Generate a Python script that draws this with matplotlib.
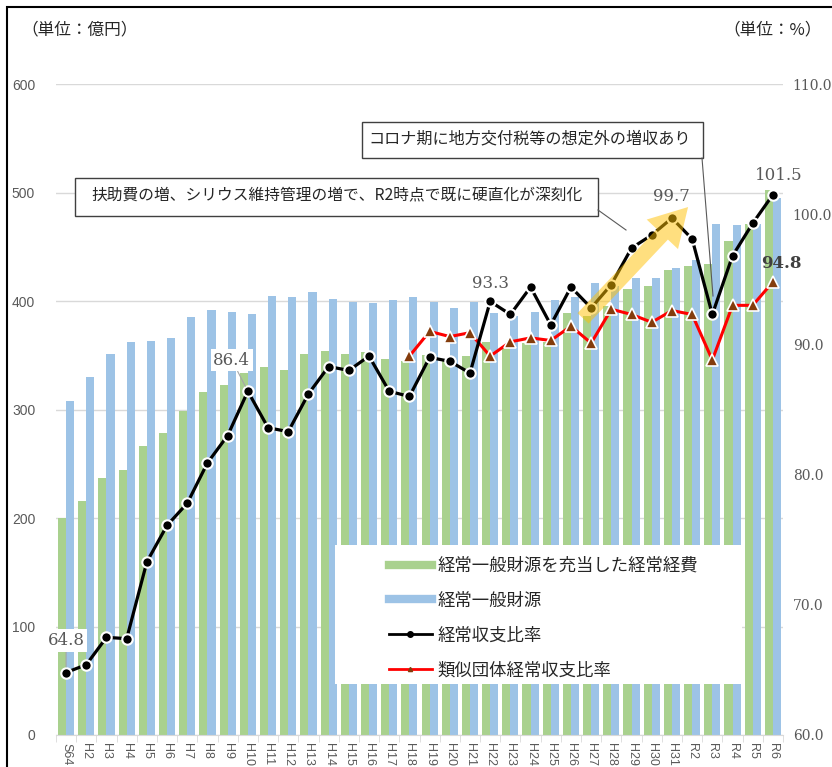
import matplotlib
matplotlib.use('Agg')
import matplotlib.pyplot as plt
from matplotlib.lines import Line2D
from matplotlib.patches import Rectangle, FancyArrowPatch
import numpy as np

plt.rcParams['font.family'] = ['Noto Sans CJK JP', 'DejaVu Sans']

# ---------------- data ----------------
categories = ['S64', 'H2', 'H3', 'H4', 'H5', 'H6', 'H7', 'H8', 'H9', 'H10',
              'H11', 'H12', 'H13', 'H14', 'H15', 'H16', 'H17', 'H18', 'H19', 'H20',
              'H21', 'H22', 'H23', 'H24', 'H25', 'H26', 'H27', 'H28', 'H29', 'H30',
              'H31', 'R2', 'R3', 'R4', 'R5', 'R6']

# 経常一般財源を充当した経常経費 (億円)
expense = [200, 216, 237, 244, 266, 278, 299, 316, 323, 334,
           339, 336, 351, 354, 351, 353, 347, 345, 350, 347,
           349, 362, 358, 361, 362, 389, 386, 395, 411, 414,
           429, 432, 434, 455, 471, 502]

# 経常一般財源 (億円)
revenue = [308, 330, 351, 362, 363, 366, 385, 392, 390, 388,
           405, 404, 408, 402, 399, 398, 401, 404, 399, 394,
           399, 389, 386, 390, 401, 404, 417, 414, 421, 421,
           430, 438, 471, 470, 471, 495]

# 経常収支比率 (%)
ratio = [64.8, 65.4, 67.5, 67.4, 73.3, 76.1, 77.8, 80.9, 83.0, 86.4,
         83.6, 83.3, 86.2, 88.3, 88.0, 89.1, 86.4, 86.0, 89.0, 88.7,
         87.8, 93.3, 92.3, 94.4, 91.5, 94.4, 92.8, 94.6, 97.4, 98.4,
         99.7, 98.1, 92.3, 96.8, 99.3, 101.5]

# 類似団体経常収支比率 (%)
similar = [np.nan, np.nan, np.nan, np.nan, np.nan, np.nan, np.nan, np.nan, np.nan, np.nan,
           np.nan, np.nan, np.nan, np.nan, np.nan, np.nan, np.nan, 89.1, 91.0, 90.6,
           90.9, 89.1, 90.2, 90.5, 90.3, 91.4, 90.1, 92.7, 92.3, 91.7,
           92.6, 92.3, 88.8, 93.0, 93.0, 94.8]

left_ticks = [0, 100, 200, 300, 400, 500, 600]
right_ticks = [60.0, 70.0, 80.0, 90.0, 100.0, 110.0]

legend_labels = ['経常一般財源を充当した経常経費', '経常一般財源', '経常収支比率', '類似団体経常収支比率']

# ---------------- figure ----------------
W, H = 832, 767
fig = plt.figure(figsize=(W / 100, H / 100), dpi=100)
ax = fig.add_axes([56 / W, 1 - 735 / H, (783 - 56) / W, (735 - 84) / H])

GREEN = '#A9D18E'
BLUE = '#9DC3E6'
GREY = '#595959'

x = np.arange(len(categories))
ax.bar(x - 0.2, expense, width=0.4, color=GREEN, zorder=2)
ax.bar(x + 0.2, revenue, width=0.4, color=BLUE, zorder=2)
ax.set_xlim(-0.5, len(categories) - 0.5)
ax.set_ylim(0, 600)
ax.set_yticks(left_ticks)
ax.set_yticklabels([str(v) for v in left_ticks], family=['Liberation Sans', 'DejaVu Sans'])
ax.yaxis.grid(True, color='#D9D9D9', lw=1)
ax.set_axisbelow(True)
for s in ['top', 'right', 'left']:
    ax.spines[s].set_visible(False)
ax.spines['bottom'].set_color('#D9D9D9')
ax.tick_params(axis='y', length=0, pad=15, labelsize=10, labelcolor=GREY)
ax.set_xticks(x)
ax.set_xticklabels(categories, rotation=-90, fontsize=9, color=GREY,
                   family=['Liberation Sans', 'DejaVu Sans'])
ax.tick_params(axis='x', which='major', length=0, pad=6)
ax.set_xticks(np.arange(-0.5, len(categories)), minor=True)
ax.tick_params(axis='x', which='minor', length=5, color='#D9D9D9')

# legend background box (covers the bars)
ax.add_patch(Rectangle((335 / W, 1 - 684 / H), (742 - 335) / W, (684 - 545) / H,
                       transform=fig.transFigure, fc='white', ec='none',
                       zorder=3, clip_on=False))

ax2 = ax.twinx()
ax2.set_ylim(60, 110)
ax2.set_yticks(right_ticks)
ax2.set_yticklabels([f'{v:.1f}' for v in right_ticks], family=['DejaVu Serif'])
ax2.tick_params(axis='y', length=0, pad=7, labelsize=10, labelcolor=GREY)
for s in ['top', 'right', 'left', 'bottom']:
    ax2.spines[s].set_visible(False)

ax2.plot(x, similar, color='#FF0000', lw=2.2, marker='^', ms=9,
         mfc='#843C0C', mec='white', mew=1.2, zorder=3)
ax2.plot(x, ratio, color='black', lw=2.3, marker='o', ms=7.5,
         mfc='black', mec='white', mew=1.5, zorder=4)

# yellow arrow
ax2.add_patch(FancyArrowPatch((25.6, 92.0), (30.8, 100.55),
                              arrowstyle='simple,tail_width=1.1,head_width=3.1,head_length=2.7',
                              mutation_scale=10, color='#FFC000', alpha=0.5, lw=0,
                              shrinkA=0, shrinkB=0, zorder=6))

# data labels
lab_font = dict(family=['DejaVu Serif'], fontsize=12, color=GREY, ha='center', va='center')
ax2.annotate('64.8', xy=(0, ratio[0]), xytext=(0, 23), textcoords='offset points',
             bbox=dict(fc='white', ec='none', pad=2),
             arrowprops=dict(arrowstyle='-', color='#A6A6A6', lw=0.8, shrinkA=0, shrinkB=4),
             zorder=7, **lab_font)
ax2.annotate('86.4', xy=(9, ratio[9]), xytext=(-11.5, 22.5), textcoords='offset points',
             bbox=dict(fc='white', ec='none', pad=2),
             arrowprops=dict(arrowstyle='-', color='#A6A6A6', lw=0.8, shrinkA=0, shrinkB=4),
             zorder=7, **lab_font)
ax2.annotate('93.3', xy=(21, ratio[21]), xytext=(0, 13), textcoords='offset points',
             zorder=7, **lab_font)
ax2.annotate('99.7', xy=(30, ratio[30]), xytext=(0, 15.5), textcoords='offset points',
             zorder=7, **lab_font)
ax2.annotate('101.5', xy=(35, ratio[35]), xytext=(4.3, 13.7), textcoords='offset points',
             zorder=7, **lab_font)
ax2.annotate('94.8', xy=(35, similar[35]), xytext=(5.8, 13), textcoords='offset points',
             family=['DejaVu Serif'], fontsize=12, color='#404040', fontweight='bold',
             ha='center', va='center', zorder=7)

# legend
handles = [
    Line2D([], [], color=GREEN, lw=6),
    Line2D([], [], color=BLUE, lw=6),
    Line2D([], [], color='black', lw=2, marker='o', ms=4),
    Line2D([], [], color='#FF0000', lw=2, marker='^', ms=3, mfc='#843C0C', mec='#843C0C'),
]
leg = ax2.legend(handles, legend_labels, loc='upper left',
                 bbox_to_anchor=(380 / W, 1 - 548 / H), bbox_transform=fig.transFigure,
                 frameon=False, borderpad=0, handlelength=2.5, handletextpad=0.3,
                 labelspacing=0.97, prop={'family': ['Noto Sans CJK JP'], 'size': 12.5})
for t in leg.get_texts():
    t.set_color('#262626')
leg.set_zorder(8)

# annotation boxes
fig.add_artist(Rectangle((75 / W, 1 - 216 / H), 523 / W, 38 / H, transform=fig.transFigure,
                         fc='white', ec='#404040', lw=1, zorder=9))
fig.text(337 / W, 1 - 196 / H, '扶助費の増、シリウス維持管理の増で、R2時点で既に硬直化が深刻化',
         ha='center', va='center', fontsize=11.3, color='#262626', zorder=10)
fig.add_artist(Line2D([598 / W, 626 / W], [1 - 210 / H, 1 - 230 / H], transform=fig.transFigure,
                      color='#595959', lw=0.8, zorder=9))

fig.add_artist(Rectangle((362 / W, 1 - 158 / H), 341 / W, 36 / H, transform=fig.transFigure,
                         fc='white', ec='#404040', lw=1, zorder=9))
fig.text(530 / W, 1 - 139 / H, 'コロナ期に地方交付税等の想定外の増収あり',
         ha='center', va='center', fontsize=11.6, color='#262626', zorder=10)
fig.add_artist(Line2D([702 / W, 713 / W], [1 - 158 / H, 1 - 296 / H], transform=fig.transFigure,
                      color='#595959', lw=0.8, zorder=9))

# unit labels
fig.text(21 / W, 1 - 30 / H, '（単位：億円）', ha='left', va='center', fontsize=12, color='#262626')
fig.text(822 / W, 1 - 30 / H, '（単位：%）', ha='right', va='center', fontsize=12, color='#262626')

# outer frame
fig.add_artist(Rectangle((7 / W, -0.1), 1.2, 1 - 7 / H + 0.1, transform=fig.transFigure,
                         fill=False, ec='black', lw=1.5))

fig.savefig('out.png', dpi=100)
